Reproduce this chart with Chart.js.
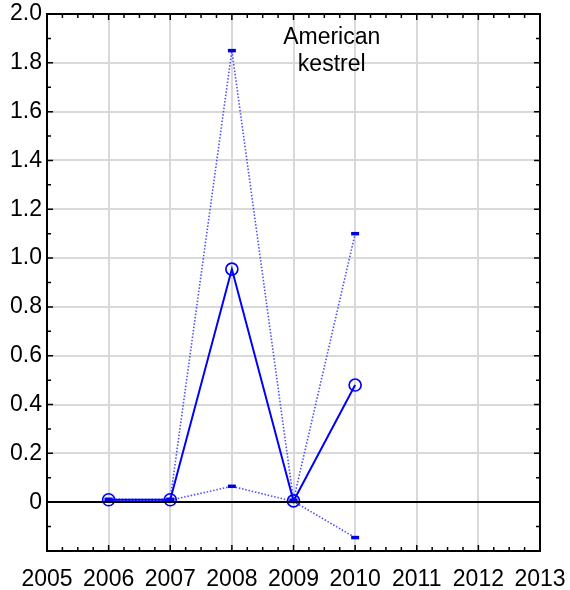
<!DOCTYPE html>
<html>
<head>
<meta charset="utf-8">
<script src="https://cdn.jsdelivr.net/npm/chart.js@4"></script>
<style>
  html, body { margin: 0; padding: 0; background: #fff; }
  #wrap { width: 570px; height: 590px; }
</style>
</head>
<body>
<div id="wrap"><canvas id="chart" width="570" height="590"></canvas></div>
<script>
// data
const years = [2006, 2007, 2008, 2009, 2010];
const meanValues = [0.01, 0.01, 0.955, 0.005, 0.48];
const upperValues = [0.012, 0.012, 1.85, 0.008, 1.10];
const lowerValues = [0.008, 0.008, 0.065, 0.003, -0.145];
const xTickLabels = ['2005', '2006', '2007', '2008', '2009', '2010', '2011', '2012', '2013'];
const yTickLabels = ['', '0', '0.2', '0.4', '0.6', '0.8', '1.0', '1.2', '1.4', '1.6', '1.8', '2.0'];
const titleLines = ['American', 'kestrel'];

const FONT = '"Liberation Sans", Arial, sans-serif';

function toPoints(values) {
    return years.map(function (yr, i) { return { x: yr, y: values[i] }; });
}

// frame, inward ticks, zero line and in-plot label
const framePlugin = {
    id: 'frame',
    afterDatasetsDraw: function (chart) {
        const ctx = chart.ctx;
        const a = chart.chartArea;
        const xs = chart.scales.x;
        const ys = chart.scales.y;
        ctx.save();
        ctx.strokeStyle = '#000';

        // zero line
        ctx.lineWidth = 2;
        const y0 = Math.round(ys.getPixelForValue(0));
        ctx.beginPath();
        ctx.moveTo(a.left, y0);
        ctx.lineTo(a.right, y0);
        ctx.stroke();

        // ticks
        ctx.lineWidth = 1.5;
        ctx.beginPath();
        for (let v = xs.min; v <= xs.max + 1e-6; v += 0.25) {
            const px = xs.getPixelForValue(v);
            const len = Math.abs(v - Math.round(v)) < 1e-6 ? 6 : 4;
            ctx.moveTo(px, a.bottom); ctx.lineTo(px, a.bottom - len);
            ctx.moveTo(px, a.top); ctx.lineTo(px, a.top + len);
        }
        for (let k = -2; k <= 20; k++) {
            const py = ys.getPixelForValue(k / 10);
            const len = k % 2 === 0 ? 6 : 4;
            ctx.moveTo(a.left, py); ctx.lineTo(a.left + len, py);
            ctx.moveTo(a.right, py); ctx.lineTo(a.right - len, py);
        }
        ctx.stroke();

        // frame
        ctx.lineWidth = 2;
        ctx.strokeRect(a.left, a.top, a.right - a.left, a.bottom - a.top);

        // label
        ctx.fillStyle = '#000';
        ctx.font = '23px ' + FONT;
        ctx.textAlign = 'center';
        ctx.textBaseline = 'alphabetic';
        const tx = xs.getPixelForValue(2009.62);
        ctx.fillText(titleLines[0], tx, 44);
        ctx.fillText(titleLines[1], tx, 71);
        ctx.restore();
    }
};

const dotted = {
    borderColor: 'rgba(60,60,255,0.9)',
    borderWidth: 1.6,
    borderDash: [1.5, 1.8],
    pointStyle: 'line',
    pointRadius: 4,
    pointBorderWidth: 3.5,
    pointBorderColor: '#0000dd',
    fill: false,
    order: 2
};

new Chart(document.getElementById('chart'), {
    type: 'line',
    data: {
        datasets: [
            Object.assign({ label: 'upper', data: toPoints(upperValues) }, dotted),
            Object.assign({ label: 'lower', data: toPoints(lowerValues) }, dotted),
            {
                label: 'mean',
                data: toPoints(meanValues),
                borderColor: '#0000ff',
                borderWidth: 2,
                pointStyle: 'circle',
                pointRadius: 6,
                pointBorderWidth: 1.7,
                pointBorderColor: '#0000ff',
                pointBackgroundColor: 'rgba(0,0,0,0)',
                fill: false,
                order: 1
            }
        ]
    },
    plugins: [framePlugin],
    options: {
        responsive: false,
        animation: false,
        layout: { padding: { top: 14, right: 30, left: 0, bottom: 0 } },
        plugins: { legend: { display: false }, tooltip: { enabled: false } },
        scales: {
            x: {
                type: 'linear',
                min: 2005,
                max: 2013,
                ticks: {
                    stepSize: 1,
                    color: '#000',
                    font: { family: FONT, size: 23 },
                    padding: 15,
                    maxRotation: 0,
                    callback: function (v) {
                        const i = Math.round(v) - 2005;
                        return xTickLabels[i] !== undefined ? xTickLabels[i] : '';
                    }
                },
                grid: { color: '#d9d9d9', lineWidth: 2, drawTicks: false },
                border: { display: false },
                afterFit: function (s) {
                    s.height = 39;
                    s.paddingLeft = 0;
                    s.paddingRight = 0;
                }
            },
            y: {
                type: 'linear',
                min: -0.2,
                max: 2.0,
                ticks: {
                    stepSize: 0.2,
                    color: '#000',
                    font: { family: FONT, size: 23 },
                    padding: 5,
                    callback: function (v) {
                        const i = Math.round(v * 5) + 1;
                        return yTickLabels[i] !== undefined ? yTickLabels[i] : '';
                    }
                },
                grid: { color: '#d9d9d9', lineWidth: 2, drawTicks: false },
                border: { display: false },
                afterFit: function (s) {
                    s.width = 47;
                    s.paddingTop = 0;
                    s.paddingBottom = 0;
                }
            }
        }
    }
});
</script>
</body>
</html>
